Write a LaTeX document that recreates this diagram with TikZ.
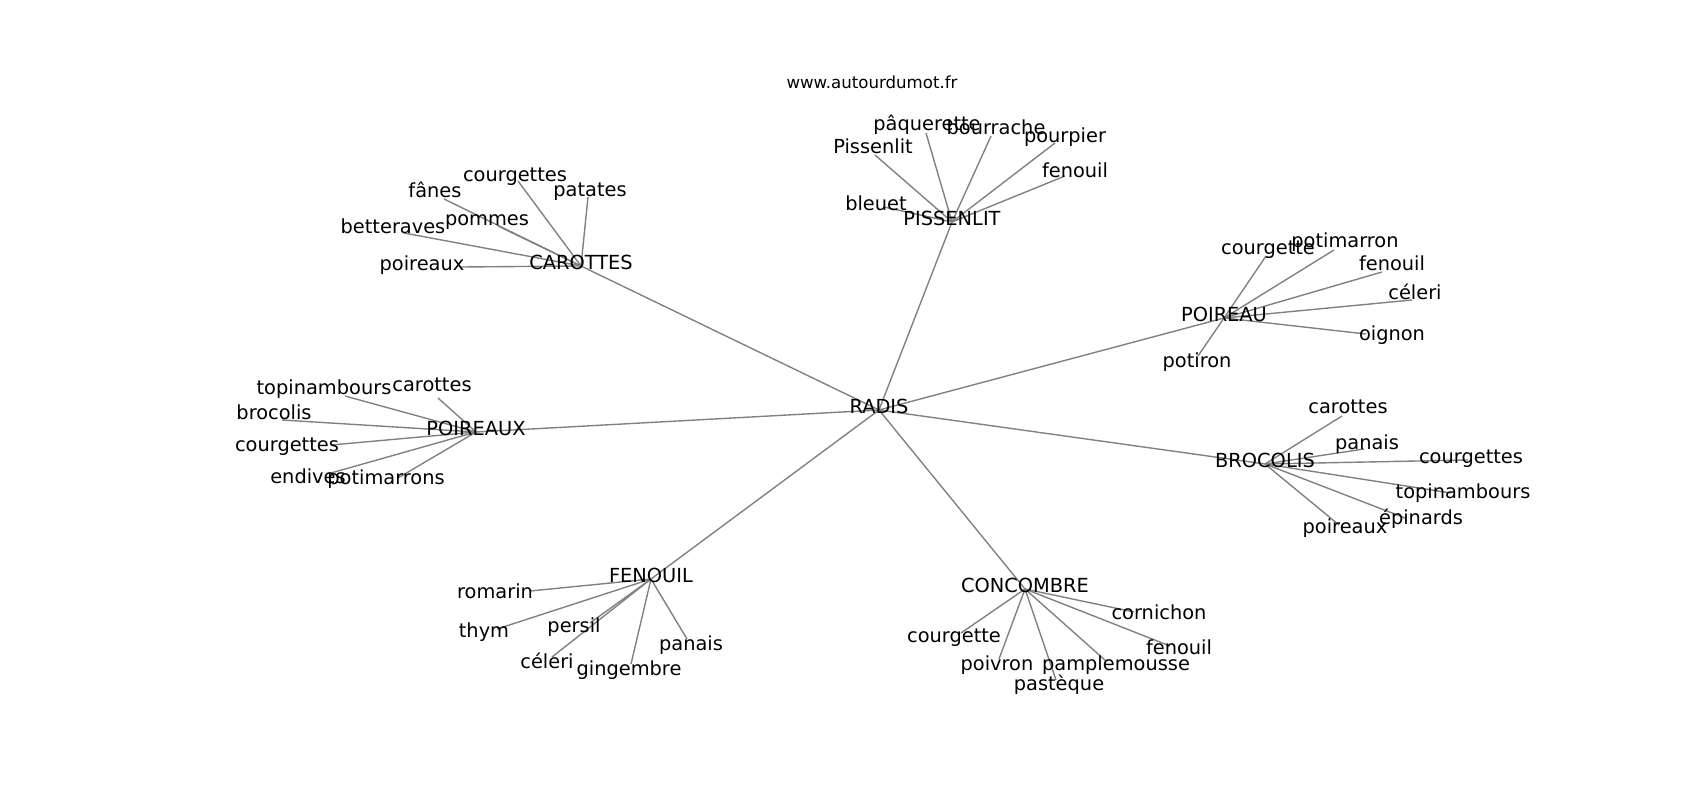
\documentclass[tikz,border=0pt]{standalone}
\usepackage{fontspec}
\setmainfont{DejaVu Sans}
\usetikzlibrary{backgrounds}

\begin{document}
\begin{tikzpicture}[x=0.01in,y=-0.01in,
    word/.style={inner sep=0pt, text height=0.76em, text depth=0.24em, font=\fontsize{14}{16}\selectfont},
    edge/.style={draw=gray, line width=1pt}]
  \useasboundingbox (0,0) rectangle (1700,800);
  \node[inner sep=0pt, font=\fontsize{12}{14}\selectfont] (site) at (872,82) {www.autourdumot.fr};

  % centre et rubriques
  \node[word] (radis) at (879,410) {RADIS};
  \node[word] (carottes) at (581,266) {CAROTTES};
  \node[word] (pissenlit) at (952,222) {PISSENLIT};
  \node[word] (poireau) at (1224,318) {POIREAU};
  \node[word] (poireaux) at (476,432) {POIREAUX};
  \node[word] (brocolis) at (1265,464) {BROCOLIS};
  \node[word] (fenouil) at (651,579) {FENOUIL};
  \node[word] (concombre) at (1025,589) {CONCOMBRE};

  % mots voisins : point du trait / place du mot
  \foreach \Name/\Dx/\Dy/\Tx/\Ty/\Word in {
    ca1/518/181/515/178/courgettes, ca2/588/197/590/193/patates,
    ca3/444/199/435/194/fânes, ca4/498/226/487/222/pommes,
    ca5/404/233/393/230/betteraves, ca6/461/267/422/267/poireaux,
    pi1/926/133/927/127/pâquerette, pi2/991/136/996/131/bourrache,
    pi3/875/155/873/150/Pissenlit, pi4/1055/143/1065/139/pourpier,
    pi5/1065/176/1075/174/fenouil, pi6/884/207/876/207/bleuet,
    po1/1266/256/1268/251/courgette, po2/1334/250/1345/244/potimarron,
    po3/1382/272/1392/267/fenouil, po4/1412/300/1415/296/céleri,
    po5/1366/334/1392/337/oignon, po6/1198/356/1197/364/potiron,
    px1/345/396/324/391/topinambours, px2/438/398/432/388/carottes,
    px3/282/420/274/416/brocolis, px4/331/445/287/448/courgettes,
    px5/331/473/308/480/endives, px6/398/478/386/481/potimarrons,
    br1/1342/416/1348/410/carottes, br2/1364/449/1367/446/panais,
    br3/1468/460/1471/460/courgettes, br4/1451/493/1463/495/topinambours,
    br5/1405/518/1421/521/épinards, br6/1339/525/1345/530/poireaux,
    fe1/530/591/495/595/romarin, fe2/497/629/484/634/thym,
    fe3/590/623/574/629/persil, fe4/552/657/547/665/céleri,
    fe5/631/664/629/672/gingembre, fe6/687/639/691/647/panais,
    co1/1134/612/1159/616/cornichon, co2/961/633/954/639/courgette,
    co3/1170/646/1179/651/fenouil, co4/999/659/997/667/poivron,
    co5/1106/661/1116/667/pamplemousse, co6/1056/680/1059/687/pastèque
  }{
    \coordinate (\Name) at (\Dx,\Dy);
    \node[word] (\Name t) at (\Tx,\Ty) {\Word};
  }

  \begin{scope}[on background layer]
    \foreach \Hub in {carottes, pissenlit, poireau, poireaux, brocolis, fenouil, concombre}
      \draw[edge] (radis.center) -- (\Hub.center);
    \foreach \Hub/\Leaf in {carottes/ca, pissenlit/pi, poireau/po, poireaux/px, brocolis/br, fenouil/fe, concombre/co}{
      \foreach \i in {1,...,6}
        \draw[edge] (\Hub.center) -- (\Leaf\i);
    }
  \end{scope}
\end{tikzpicture}
\end{document}
